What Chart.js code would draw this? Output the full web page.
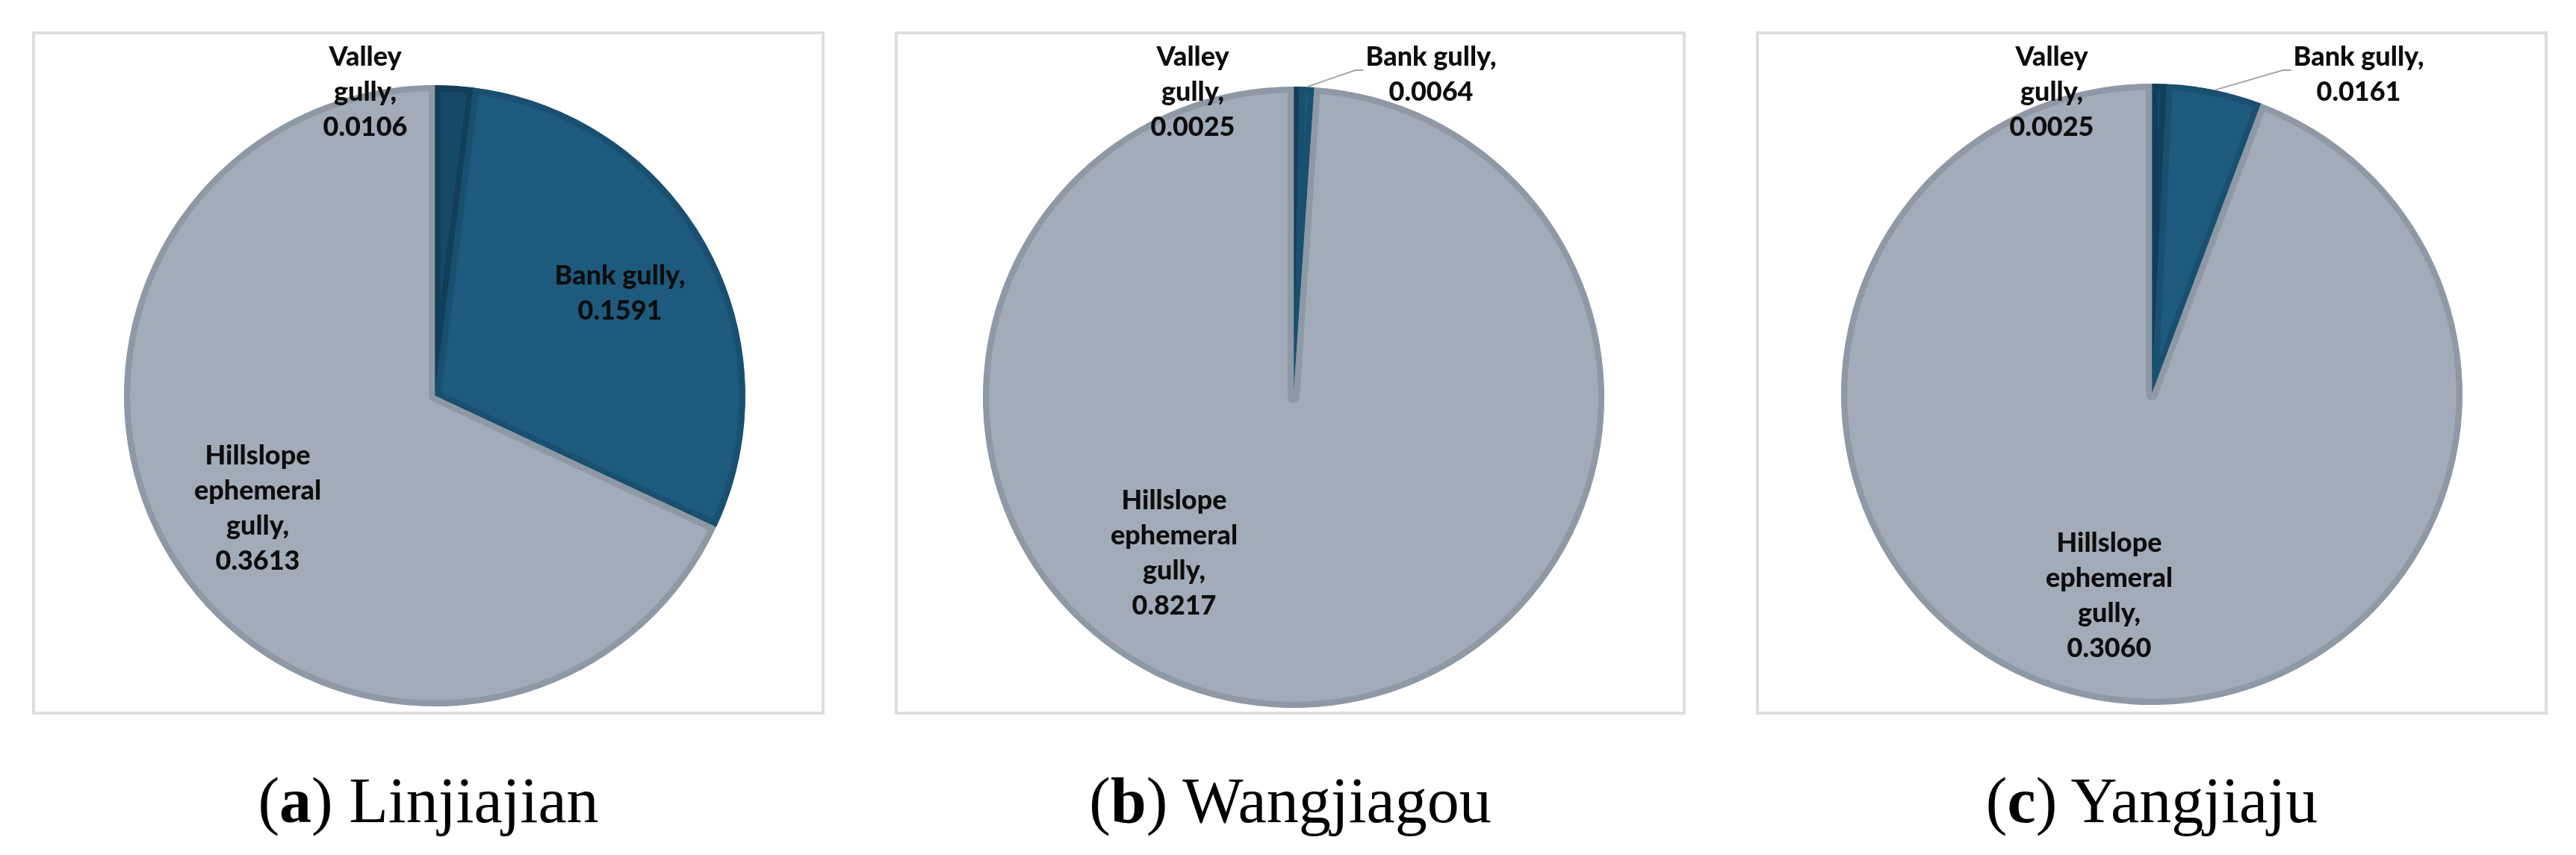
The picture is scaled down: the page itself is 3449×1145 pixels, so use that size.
<!DOCTYPE html>
<html>
<head>
<meta charset="utf-8">
<script src="https://cdn.jsdelivr.net/npm/chart.js@4"></script>
<style>
    body { margin: 0; background: #ffffff; width: 3449px; height: 1145px; position: relative; overflow: hidden; }
    .panel { position: absolute; top: 42px; height: 915px; border: 4px solid #dedede; box-sizing: border-box; }
    .panel canvas { display: block; }
    .caption { position: absolute; top: 1030px; font-family: "Liberation Serif", "DejaVu Serif", serif; font-size: 86px; line-height: 84px; color: #000; text-align: center; white-space: nowrap; }
</style>
</head>
<body>
<div class="panel" id="panelA" style="left:43px;width:1061px;"><canvas id="chartA"></canvas></div>
<div class="panel" id="panelB" style="left:1198px;width:1059px;"><canvas id="chartB"></canvas></div>
<div class="panel" id="panelC" style="left:2351px;width:1060px;"><canvas id="chartC"></canvas></div>
<div class="caption" style="left:43px;width:1061px;">(<b>a</b>) Linjiajian</div>
<div class="caption" style="left:1198px;width:1059px;">(<b>b</b>) Wangjiagou</div>
<div class="caption" style="left:2351px;width:1060px;">(<b>c</b>) Yangjiaju</div>
<script>
// data
const categories = ['Valley gully', 'Bank gully', 'Hillslope ephemeral gully'];
const labelLines = [['Valley', 'gully,'], ['Bank gully,'], ['Hillslope', 'ephemeral', 'gully,']];
const linjiajianValues = [0.0106, 0.1591, 0.3613];
const wangjiagouValues = [0.0025, 0.0064, 0.8217];
const yangjiajuValues = [0.0025, 0.0161, 0.3060];

const sliceColors = ['#174868', '#1d5a7e', '#a1acb8'];
const sliceBorders = ['#133e5a', '#195070', '#8e99a5'];

// label placement: offset of first baseline from pie centre, leader line flag
const layouts = {
    chartA: {
        padding: { left: 119, top: 68, right: 102, bottom: 7 },
        labels: [[-93, -442, false], [248, -149, false], [-237, 92, false]]
    },
    chartB: {
        padding: { left: 114, top: 70, right: 105, bottom: 5 },
        labels: [[-135, -444, false], [184, -444, true], [-160, 150, false]]
    },
    chartC: {
        padding: { left: 110, top: 66, right: 110, bottom: 9 },
        labels: [[-134, -440, false], [277, -440, true], [-57, 211, false]]
    }
};

const sliceLabels = {
    id: 'sliceLabels',
    afterDatasetsDraw(chart) {
        const ctx = chart.ctx;
        const meta = chart.getDatasetMeta(0);
        const values = chart.data.datasets[0].data;
        const layout = layouts[chart.canvas.id];
        const lineHeight = 47;
        ctx.save();
        ctx.font = '900 36px Lato, "Open Sans", sans-serif';
        ctx.fillStyle = '#0d0d0d';
        ctx.textAlign = 'center';
        ctx.textBaseline = 'alphabetic';
        meta.data.forEach((arc, i) => {
            const [dx, dy, leader] = layout.labels[i];
            const lines = labelLines[i].concat([values[i].toFixed(4)]);
            const cx = arc.x + dx;
            const top = arc.y + dy;
            lines.forEach((line, j) => ctx.fillText(line, cx, top + j * lineHeight));
            if (leader) {
                const w = ctx.measureText(lines[0]).width;
                const left = cx - w / 2;
                const mid = (arc.startAngle + arc.endAngle) / 2;
                const px = arc.x + Math.cos(mid) * arc.outerRadius;
                const py = arc.y + Math.sin(mid) * arc.outerRadius;
                ctx.strokeStyle = '#a6a6a6';
                ctx.lineWidth = 2;
                ctx.beginPath();
                ctx.moveTo(px, py);
                ctx.lineTo(left - 14, top + 6);
                ctx.lineTo(left - 3, top + 6);
                ctx.stroke();
            }
        });
        ctx.restore();
    }
};

function drawPie(canvasId, values) {
    const container = document.getElementById(canvasId).parentNode;
    const canvas = document.getElementById(canvasId);
    canvas.width = container.clientWidth;
    canvas.height = container.clientHeight;
    new Chart(canvas, {
        type: 'pie',
        data: {
            labels: categories,
            datasets: [{
                data: values,
                backgroundColor: sliceColors,
                borderColor: sliceBorders,
                borderWidth: 8,
                borderAlign: 'inner'
            }]
        },
        options: {
            responsive: false,
            animation: false,
            layout: { padding: layouts[canvasId].padding },
            plugins: {
                legend: { display: false },
                tooltip: { enabled: false }
            }
        },
        plugins: [sliceLabels]
    });
}

drawPie('chartA', linjiajianValues);
drawPie('chartB', wangjiagouValues);
drawPie('chartC', yangjiajuValues);
</script>
</body>
</html>
